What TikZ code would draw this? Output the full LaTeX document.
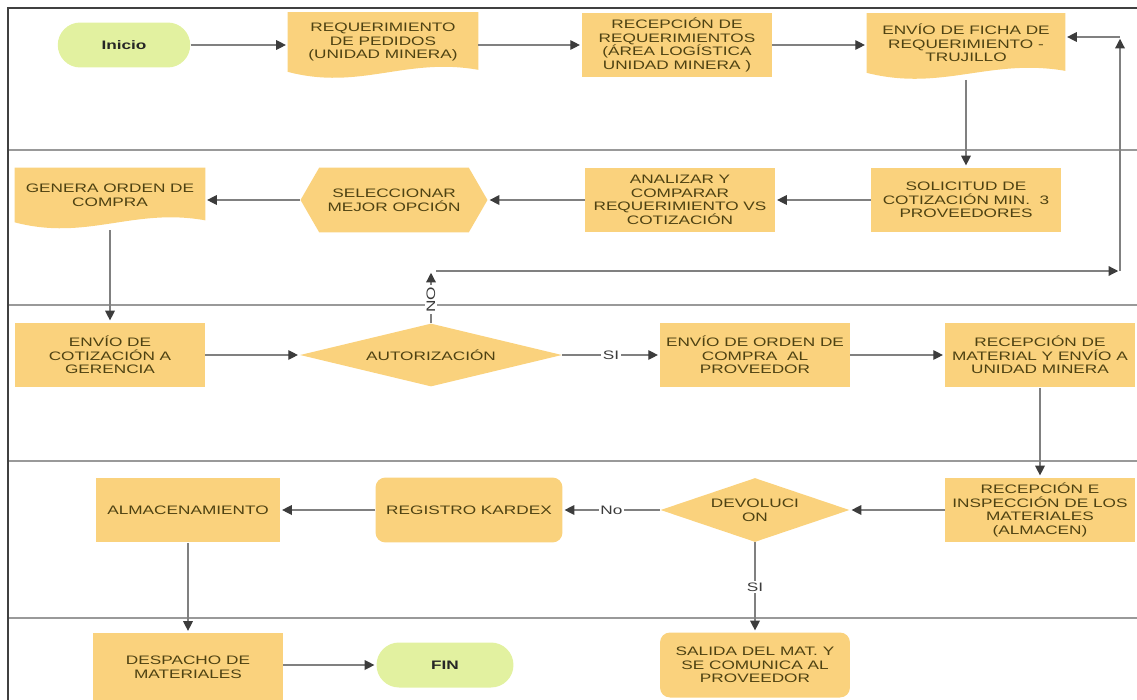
\documentclass[tikz,border=0pt]{standalone}
\usepackage{fontspec}
\usetikzlibrary{arrows.meta,shapes.geometric,shapes.symbols,backgrounds,calc}
\newfontfamily\diag[FakeStretch=1.4]{Liberation Sans}
\newcommand{\diagfont}{\diag\fontsize{7}{7.7}\selectfont}
\definecolor{fillor}{RGB}{250,210,125}
\definecolor{termgr}{RGB}{226,241,160}
\definecolor{txt}{RGB}{78,66,18}
\definecolor{lgray}{RGB}{128,128,128}
\definecolor{agray}{RGB}{60,60,60}
\begin{document}
\begin{tikzpicture}[x=0.02cm, y=-0.02cm,
	box/.style={fill=fillor, minimum width=3.8cm, minimum height=1.3cm, align=center, font=\diagfont, text=txt, inner sep=1pt},
	doc/.style={box, fill=none, minimum height=1.18cm},
	rbox/.style={box, rounded corners=0.2cm},
	dec/.style={box, diamond, aspect=4, inner sep=0pt},
	hexa/.style={box, signal, signal to=west and east, signal pointer angle=120},
	term/.style={fill=termgr, rounded corners=0.45cm, minimum width=2.65cm, minimum height=0.9cm, font=\diagfont\bfseries, text=black!85},
	arr/.style={draw=lgray, line width=0.7pt, shorten >=1pt, -{Triangle[length=5.5pt,width=5.5pt,color=agray]}},
	lbl/.style={fill=white, font=\diagfont, text=agray, inner sep=1pt},
	lane/.style={draw=lgray!80, line width=0.8pt}]
	\useasboundingbox (0,0) rectangle (1137,700);
	\clip (0,0) rectangle (1137,700);
	% lanes
	\foreach \ly in {150,305,461,618}
		\draw[lane] (8,\ly) -- (1137,\ly);
	\draw[lane, draw=black!75] (1137,8) -- (8,8) -- (8,700);

	% row 1
	\node[term] (inicio) at (124,45) {Inicio};
	\node[doc] (reqped) at (383,42) {REQUERIMIENTO\\DE PEDIDOS\\(UNIDAD MINERA)};
	\node[box] (recep) at (677,45) {RECEPCIÓN DE\\REQUERIMIENTOS\\(ÁREA LOGÍSTICA\\UNIDAD MINERA )};
	\node[doc, minimum width=3.96cm] (envio) at (966,43) {ENVÍO DE FICHA DE\\REQUERIMIENTO -\\TRUJILLO};
	% row 2
	\node[box] (solic) at (966,200) {SOLICITUD DE\\COTIZACIÓN MIN.~~3\\PROVEEDORES};
	\node[box] (analiz) at (680,200) {ANALIZAR Y\\COMPARAR\\REQUERIMIENTO VS\\COTIZACIÓN};
	\node[hexa, minimum width=3.74cm] (selec) at (394,200) {SELECCIONAR\\MEJOR OPCIÓN};
	\node[doc, minimum height=1.08cm] (genera) at (110,195) {GENERA ORDEN DE\\COMPRA};
	% row 3
	\node[box] (envcot) at (110,355) {ENVÍO DE\\COTIZACIÓN A\\GERENCIA};
	\node[dec, minimum width=5.24cm, minimum height=1.26cm] (auto) at (431,355) {AUTORIZACIÓN};
	\node[box] (envord) at (755,355) {ENVÍO DE ORDEN DE\\COMPRA~~AL\\PROVEEDOR};
	\node[box] (recmat) at (1040,355) {RECEPCIÓN DE\\MATERIAL Y ENVÍO A\\UNIDAD MINERA};
	% row 4
	\node[box] (recins) at (1040,510) {RECEPCIÓN E\\INSPECCIÓN DE LOS\\MATERIALES\\(ALMACEN)};
	\node[dec, aspect=3, minimum width=3.78cm, minimum height=1.28cm] (devol) at (755,510) {DEVOLUCI\\ON};
	\node[rbox, minimum width=3.74cm] (regk) at (469,510) {REGISTRO KARDEX};
	\node[box, minimum width=3.68cm] (almac) at (188,510) {ALMACENAMIENTO};
	% row 5
	\node[box, minimum height=1.36cm] (desp) at (188,667) {DESPACHO DE\\MATERIALES};
	\node[term, minimum width=2.74cm] (fin) at (445,665) {FIN};
	\node[rbox] (salida) at (755,665) {SALIDA DEL MAT. Y\\SE COMUNICA AL\\PROVEEDOR};

	% document shapes
	\begin{scope}[on background layer]
		\foreach \n in {reqped,envio,genera}
			\fill[fillor] (\n.north west) -- (\n.north east) -- ([yshift=0.04cm]\n.south east)
				.. controls ($(\n.south west)!0.62!(\n.south east)+(0cm,0.3cm)$) and ($(\n.south west)!0.38!(\n.south east)+(0cm,-0.38cm)$)
				.. (\n.south west) -- cycle;
	\end{scope}

	% connectors
	\draw[arr] (inicio.east) -- (inicio.east -| reqped.west);
	\draw[arr] (recep.west -| reqped.east) -- (recep.west);
	\draw[arr] (recep.east) -- (recep.east -| envio.west);
	\draw[arr] ([yshift=-0.14cm]envio.south) -- (solic.north);
	\draw[arr] (solic.west) -- (analiz.east);
	\draw[arr] (analiz.west) -- (selec.east);
	\draw[arr] (selec.west) -- (selec.west -| genera.east);
	\draw[arr] ([yshift=-0.16cm]genera.south) -- (envcot.north);
	\draw[arr] (envcot.east) -- (auto.west);
	\draw[arr] (auto.east) -- node[lbl]{SI} (envord.west);
	\draw[arr] (envord.east) -- (recmat.west);
	\draw[arr] (recmat.south) -- (recins.north);
	\draw[arr] (recins.west) -- (devol.east);
	\draw[arr] (devol.west) -- node[lbl]{No} (regk.east);
	\draw[arr] (regk.west) -- (almac.east);
	\draw[arr] (almac.south) -- (desp.north);
	\draw[arr] (desp.east |- fin) -- (fin.west);
	\draw[arr] (devol.south) -- node[lbl]{SI} (salida.north);
	% loop back when not authorised
	\coordinate (noA) at (431,271);
	\coordinate (noB) at (1120,271);
	\coordinate (noC) at (1120,37);
	\draw[arr] (auto.north) -- node[lbl, rotate=90, pos=0.45]{NO} (noA);
	\draw[arr] ([xshift=0.1cm]noA) -- (noB);
	\draw[arr] (noB) -- (noC);
	\draw[arr] (noC) -- (noC -| envio.east);
\end{tikzpicture}
\end{document}
